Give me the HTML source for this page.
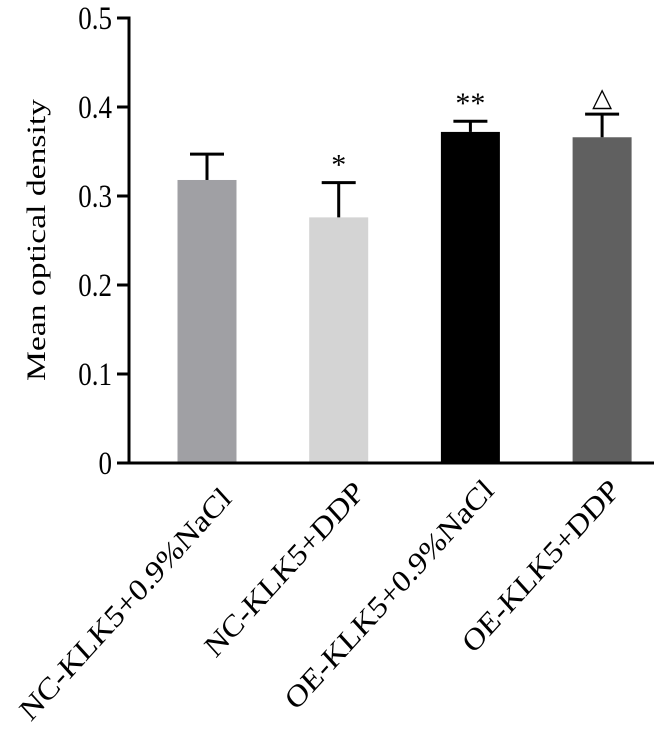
<!DOCTYPE html>
<html><head><meta charset="utf-8"><style>
body{margin:0;background:#fff;}
svg{display:block;font-family:"Liberation Serif",serif;}
</style></head><body>
<svg id="chart" width="654" height="741" viewBox="0 0 654 741" xmlns="http://www.w3.org/2000/svg"></svg>
<script>
const categories = ["NC-KLK5+0.9%NaCl","NC-KLK5+DDP","OE-KLK5+0.9%NaCl","OE-KLK5+DDP"];
const means = [0.318,0.276,0.372,0.366];
const errors = [0.029,0.039,0.012,0.026];
const marks = ["","*","**","\u25B3"];
const colors = ["#a0a0a4","#d4d4d4","#000000","#606060"];
const yTicks = [0,0.1,0.2,0.3,0.4,0.5];
const yTickLabels = ["0","0.1","0.2","0.3","0.4","0.5"];

const NS="http://www.w3.org/2000/svg";
const svg=document.getElementById('chart');
const y0=463, yTop=18, yMax=0.5;
const y=v=>y0-(v/yMax)*(y0-yTop);
const x=i=>207+i*131.7;
const bw=59;
function mk(t,a){const e=document.createElementNS(NS,t);for(const k in a)e.setAttribute(k,a[k]);svg.appendChild(e);return e;}

categories.forEach((c,i)=>{
  const b=mk('rect',{x:x(i)-bw/2,y:y(means[i]),width:bw,height:y0-y(means[i]),fill:colors[i]});
  
  
  const top=y(means[i]+errors[i]);
  const v=mk('line',{x1:x(i),x2:x(i),y1:y(means[i]),y2:top,stroke:'#000','stroke-width':3});
  
  
  const cap=mk('line',{x1:x(i)-17,x2:x(i)+17,y1:top,y2:top,stroke:'#000','stroke-width':3});
  
  
  if(marks[i]){
    const m=mk('text',{x:x(i),y:top-8,'text-anchor':'middle','font-size':marks[i]==="\u25B3"?26:30,fill:'#000'});
    m.textContent=marks[i];
    
    
  }
  const ex=x(i)+[26,27,25,19][i], ey=[500,494,492,492][i];
  const g=mk('g',{transform:`translate(${ex},${ey}) scale(1,1.1) rotate(-45)`});
  const t=document.createElementNS(NS,'text');
  t.setAttribute('text-anchor','end');t.setAttribute('font-size','28');
  t.setAttribute('textLength',[286,212,282,209][i]);t.setAttribute('lengthAdjust','spacingAndGlyphs');
  t.textContent=c;
  
  
  g.appendChild(t);
});

yTicks.forEach((v,i)=>{
  const tk=mk('line',{x1:117,x2:129,y1:y(v),y2:y(v),stroke:'#000','stroke-width':3});
  
  
  const g=mk('g',{transform:`translate(112,${y(v)}) scale(1,1.2)`});
  const t=document.createElementNS(NS,'text');
  t.setAttribute('text-anchor','end');t.setAttribute('font-size','27');t.setAttribute('y','9');
  t.textContent=yTickLabels[i];
  
  
  g.appendChild(t);
});

const ya=mk('line',{x1:129,x2:129,y1:yTop-1.5,y2:y0+1.5,stroke:'#000','stroke-width':3});


const xa=mk('line',{x1:127.5,x2:657,y1:y0,y2:y0,stroke:'#000','stroke-width':3});



const tt=mk('text',{transform:'translate(45,240) rotate(-90)','text-anchor':'middle','font-size':26,textLength:282,lengthAdjust:'spacingAndGlyphs'});
tt.textContent='Mean optical density';


</script>
</body></html>
